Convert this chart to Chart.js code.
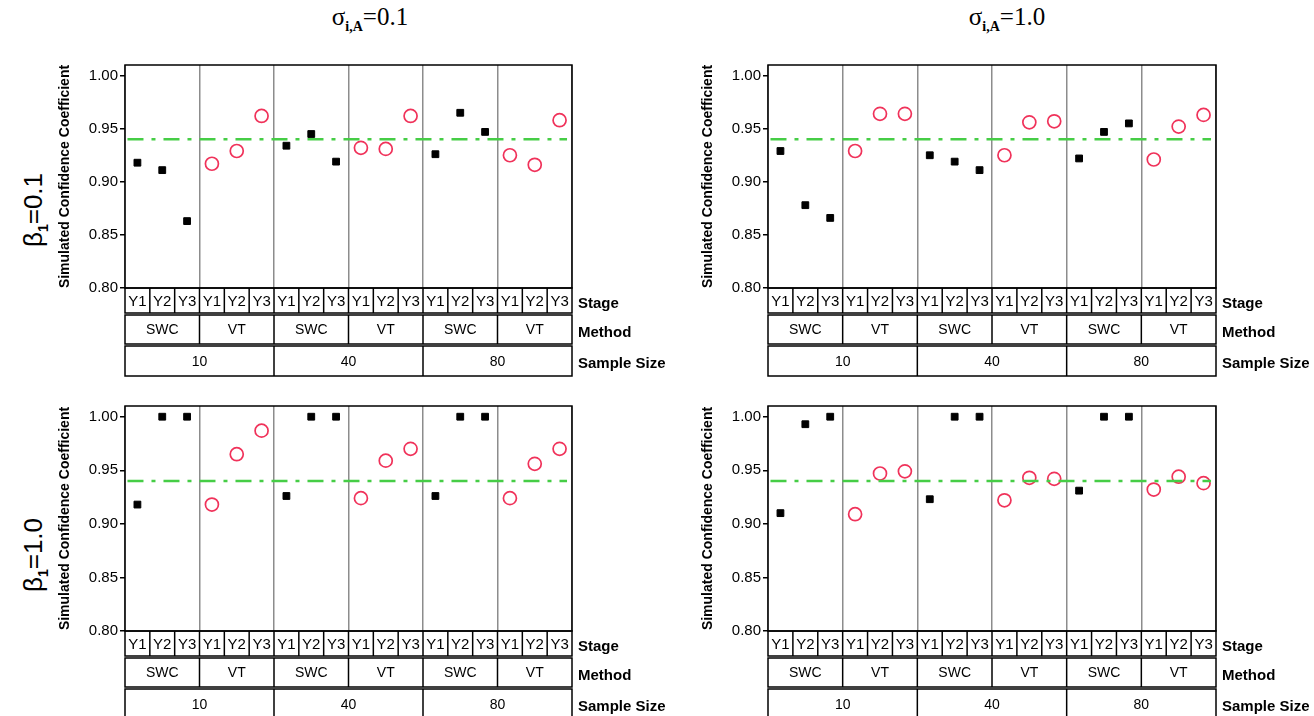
<!DOCTYPE html>
<html>
<head>
<meta charset="utf-8">
<script src="https://cdn.jsdelivr.net/npm/chart.js@4.4.1/dist/chart.umd.min.js"></script>
<style>
body { margin:0; background:#fff; width:1314px; height:716px; overflow:hidden; position:relative; }
canvas { position:absolute; }
.colTitle { position:absolute; top:3px; font-family:"Liberation Serif","Times New Roman",serif; font-size:25px; transform:translateX(-50%); white-space:nowrap; }
.rowTitle { position:absolute; font-family:"Liberation Sans",Arial,sans-serif; font-size:26px; transform:translate(-50%,-50%) rotate(-90deg); white-space:nowrap; }
.sb { font-size:14px; font-weight:bold; vertical-align:-6px; }
</style>
</head>
<body>
<div class="colTitle" style="left:370px">&sigma;<span class="sb">i,A</span>=0.1</div>
<div class="colTitle" style="left:1007px">&sigma;<span class="sb">i,A</span>=1.0</div>
<div class="rowTitle" style="left:34px;top:210px">&beta;<span class="sb">1</span>=0.1</div>
<div class="rowTitle" style="left:34px;top:555px">&beta;<span class="sb">1</span>=1.0</div>

<canvas id="c1" width="680" height="380" style="left:0;top:0"></canvas>
<canvas id="c2" width="634" height="380" style="left:680px;top:0"></canvas>
<canvas id="c3" width="680" height="336" style="left:0;top:380px"></canvas>
<canvas id="c4" width="634" height="336" style="left:680px;top:380px"></canvas>

<script>
var stages = ['Y1', 'Y2', 'Y3'];
var methods = ['SWC', 'VT'];
var sampleSizes = ['10', '40', '80'];
var yTicks = [0.80, 0.85, 0.90, 0.95, 1.00];
var nominal = 0.94;

// values in order: n=10 Y1,Y2,Y3, n=40 Y1,Y2,Y3, n=80 Y1,Y2,Y3
var swcB01S01 = [0.918, 0.911, 0.863, 0.934, 0.945, 0.919, 0.926, 0.965, 0.947];
var vtB01S01  = [0.917, 0.929, 0.962, 0.932, 0.931, 0.962, 0.925, 0.916, 0.958];
var swcB01S10 = [0.929, 0.878, 0.866, 0.925, 0.919, 0.911, 0.922, 0.947, 0.955];
var vtB01S10  = [0.929, 0.964, 0.964, 0.925, 0.956, 0.957, 0.921, 0.952, 0.963];
var swcB10S01 = [0.918, 1.000, 1.000, 0.926, 1.000, 1.000, 0.926, 1.000, 1.000];
var vtB10S01  = [0.918, 0.965, 0.987, 0.924, 0.959, 0.970, 0.924, 0.956, 0.970];
var swcB10S10 = [0.910, 0.993, 1.000, 0.923, 1.000, 1.000, 0.931, 1.000, 1.000];
var vtB10S10  = [0.909, 0.947, 0.949, 0.922, 0.943, 0.942, 0.932, 0.944, 0.938];

var nCells = sampleSizes.length * methods.length * stages.length;
var font = '"Liberation Sans", Arial, sans-serif';

function toPoints(values, m){
    var pts = [];
    for(var j = 0; j < values.length; j++){
        var k = Math.floor(j / stages.length);
        var s = j % stages.length;
        var cell = k * methods.length * stages.length + m * stages.length + s;
        pts.push({x: cell + 0.5, y: values[j]});
    }
    return pts;
}

// frame + the Stage / Method / Sample Size table under each panel
var tablePlugin = {
    id: 'designTable',
    afterDraw: function(chart){
        var ctx = chart.ctx;
        var a = chart.chartArea;
        var xs = chart.scales.x;
        var stageLabels = [], methodLabels = [];
        for(var k = 0; k < sampleSizes.length; k++){
            for(var m = 0; m < methods.length; m++){
                methodLabels.push(methods[m]);
                for(var s = 0; s < stages.length; s++) stageLabels.push(stages[s]);
            }
        }
        var rows = [
            {name: 'Stage', labels: stageLabels, span: 1, h: 25, size: 15},
            {name: 'Method', labels: methodLabels, span: 3, h: 29, size: 14},
            {name: 'Sample Size', labels: sampleSizes, span: 6, h: 30, size: 14}
        ];
        ctx.save();
        ctx.strokeStyle = '#000';
        ctx.fillStyle = '#000';
        ctx.lineWidth = 1.5;
        ctx.strokeRect(a.left, a.top, a.right - a.left, a.bottom - a.top);
        var top = a.bottom;
        ctx.textBaseline = 'middle';
        for(var r = 0; r < rows.length; r++){
            var row = rows[r];
            ctx.strokeRect(a.left, top, a.right - a.left, row.h);
            for(var i = 0; i < row.labels.length; i++){
                var x0 = xs.getPixelForValue(i * row.span);
                var x1 = xs.getPixelForValue((i + 1) * row.span);
                if(i < row.labels.length - 1){
                    ctx.beginPath();
                    ctx.moveTo(x1, top);
                    ctx.lineTo(x1, top + row.h);
                    ctx.stroke();
                }
                ctx.textAlign = 'center';
                ctx.font = row.size + 'px ' + font;
                ctx.fillText(row.labels[i], (x0 + x1) / 2, top + row.h / 2 + 1);
            }
            ctx.textAlign = 'left';
            ctx.font = 'bold 15px ' + font;
            ctx.fillText(row.name, a.right + 6, top + row.h / 2 + 3);
            top += row.h + 2;
        }
        ctx.restore();
    }
};

function drawPanel(id, swc, vt, pad){
    new Chart(document.getElementById(id), {
        type: 'scatter',
        data: {
            datasets: [
                {
                    type: 'line',
                    data: [{x: 0.1, y: nominal}, {x: nCells - 0.2, y: nominal}],
                    borderColor: 'rgb(70,205,70)',
                    borderWidth: 2.5,
                    borderDash: [16, 8, 4, 8],
                    pointRadius: 0,
                    fill: false
                },
                {
                    label: 'SWC',
                    data: toPoints(swc, 0),
                    pointStyle: 'rect',
                    pointRadius: 4.8,
                    backgroundColor: '#000',
                    borderColor: '#000',
                    borderWidth: 1
                },
                {
                    label: 'VT',
                    data: toPoints(vt, 1),
                    pointStyle: 'circle',
                    pointRadius: 6.5,
                    backgroundColor: 'rgba(0,0,0,0)',
                    borderColor: 'rgb(240,50,90)',
                    borderWidth: 1.7
                }
            ]
        },
        options: {
            responsive: false,
            animation: false,
            devicePixelRatio: 1,
            layout: {padding: pad},
            plugins: {legend: {display: false}, tooltip: {enabled: false}},
            scales: {
                x: {
                    type: 'linear',
                    min: 0,
                    max: nCells,
                    ticks: {display: false, stepSize: 3},
                    grid: {color: '#8c8c8c', lineWidth: 1.5, drawTicks: false},
                    border: {display: false}
                },
                y: {
                    min: 0.80,
                    max: 1.01,
                    afterBuildTicks: function(scale){
                        scale.ticks = yTicks.map(function(v){ return {value: v}; });
                    },
                    afterFit: function(scale){ scale.width = 68; },
                    ticks: {
                        color: '#000',
                        padding: 2,
                        font: {family: font, size: 15},
                        callback: function(v){ return Number(v).toFixed(2); }
                    },
                    grid: {drawOnChartArea: false, drawTicks: true, tickLength: 5, color: '#000', lineWidth: 1.5},
                    border: {display: false},
                    title: {
                        display: true,
                        text: 'Simulated Confidence Coefficient',
                        color: '#000',
                        font: {family: font, size: 14, weight: 'bold'},
                        padding: {top: 0, bottom: 0}
                    }
                }
            }
        },
        plugins: [tablePlugin]
    });
}

drawPanel('c1', swcB01S01, vtB01S01, {left: 57, top: 65, right: 108, bottom: 92});
drawPanel('c2', swcB01S10, vtB01S10, {left: 20, top: 65, right: 98, bottom: 92});
drawPanel('c3', swcB10S01, vtB10S01, {left: 57, top: 26, right: 108, bottom: 85});
drawPanel('c4', swcB10S10, vtB10S10, {left: 20, top: 26, right: 98, bottom: 85});
</script>
</body>
</html>
